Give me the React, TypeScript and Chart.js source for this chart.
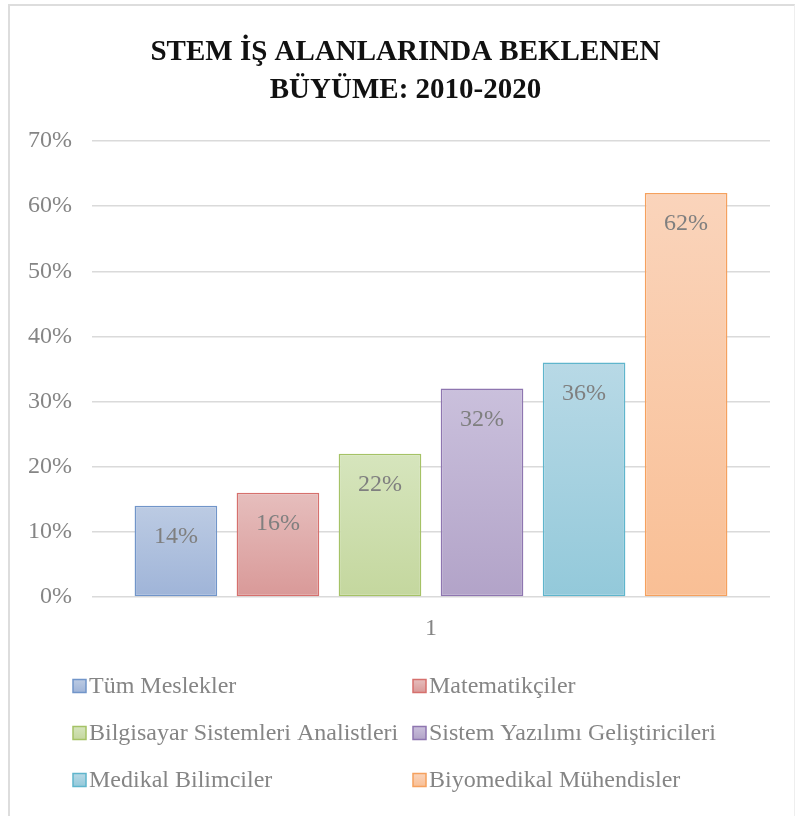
import React, { useEffect, useRef } from "react";
import { Chart, registerables } from "chart.js";

Chart.register(...registerables);

const titleLines = ["STEM İŞ ALANLARINDA BEKLENEN", "BÜYÜME: 2010-2020"];
const categories = ["1"];
const seriesNames = [
  "Tüm Meslekler",
  "Matematikçiler",
  "Bilgisayar Sistemleri Analistleri",
  "Sistem Yazılımı Geliştiricileri",
  "Medikal Bilimciler",
  "Biyomedikal Mühendisler",
];
const seriesValues = [14, 16, 22, 32, 36, 62];
const yMin = 0;
const yMax = 70;
const yStep = 10;

const topColors = ["#bccbe3", "#e6bebd", "#d6e5bd", "#cac0dc", "#b8d9e6", "#fad4bb"];
const bottomColors = ["#9fb4d8", "#d99998", "#c4d79e", "#b2a3c8", "#93c9da", "#f9bf95"];
const borderColors = ["#7195c9", "#d6706d", "#a5c266", "#8e76b0", "#5fb5cc", "#f5a15e"];

const FONT = "'Liberation Serif', 'Times New Roman', serif";
const TEXT_GREY = "#858585";

const titlePlugin = {
  id: "customTitle",
  afterDraw(chart: any) {
    const ctx = chart.ctx;
    ctx.save();
    ctx.font = `bold 29px ${FONT}`;
    ctx.fillStyle = "#111111";
    ctx.textAlign = "center";
    ctx.textBaseline = "middle";
    const cx = chart.width / 2 + 3.5;
    titleLines.forEach((line, i) => {
      ctx.fillText(line, cx, 47 + i * 37.7);
    });
    ctx.restore();
  },
};

const barLabelPlugin = {
  id: "barLabels",
  afterDatasetsDraw(chart: any) {
    const ctx = chart.ctx;
    ctx.save();
    ctx.font = `24px ${FONT}`;
    ctx.fillStyle = "#7f7f7f";
    ctx.textAlign = "center";
    ctx.textBaseline = "middle";
    chart.data.datasets.forEach((ds: any, i: number) => {
      const meta = chart.getDatasetMeta(i);
      meta.data.forEach((el: any, j: number) => {
        ctx.fillText(`${ds.data[j]}%`, el.x, el.y + 31);
      });
    });
    ctx.restore();
  },
};

const gridLegendPlugin = {
  id: "gridLegend",
  afterDraw(chart: any) {
    const ctx = chart.ctx;
    const colX = [63, 403];
    const rowY0 = 680;
    const rowGap = 47;
    const box = 13;
    ctx.save();
    ctx.font = `24px ${FONT}`;
    ctx.textBaseline = "middle";
    ctx.textAlign = "left";
    chart.data.datasets.forEach((ds: any, i: number) => {
      const col = i % 2;
      const row = Math.floor(i / 2);
      const x = colX[col];
      const y = rowY0 + row * rowGap;
      const g = ctx.createLinearGradient(0, y - box / 2, 0, y + box / 2);
      g.addColorStop(0, topColors[i]);
      g.addColorStop(1, bottomColors[i]);
      ctx.fillStyle = g;
      ctx.fillRect(x, y - box / 2, box, box);
      ctx.strokeStyle = borderColors[i];
      ctx.lineWidth = 1.5;
      ctx.strokeRect(x, y - box / 2, box, box);
      ctx.fillStyle = TEXT_GREY;
      ctx.fillText(ds.label, x + box + 3, y + 1);
    });
    ctx.restore();
  },
};

export default function App() {
  const ref = useRef<HTMLCanvasElement | null>(null);

  useEffect(() => {
    if (!ref.current) return;
    const datasets = seriesNames.map((name, i) => ({
      label: name,
      data: [seriesValues[i]],
      backgroundColor: (c: any) => {
        const chart = c.chart;
        if (!chart.chartArea || c.raw === undefined) return bottomColors[i];
        const ys = chart.scales.y;
        const top = ys.getPixelForValue(c.raw);
        const bot = ys.getPixelForValue(0);
        if (!isFinite(top) || !isFinite(bot) || top === bot) return bottomColors[i];
        const g = chart.ctx.createLinearGradient(0, top, 0, bot);
        g.addColorStop(0, topColors[i]);
        g.addColorStop(1, bottomColors[i]);
        return g;
      },
      borderColor: borderColors[i],
      borderWidth: 1.5,
      borderSkipped: false,
      categoryPercentage: 0.903,
      barPercentage: 0.81,
    }));

    const chart = new Chart(ref.current, {
      type: "bar",
      data: { labels: categories, datasets },
      plugins: [titlePlugin, barLabelPlugin, gridLegendPlugin],
      options: {
        animation: false,
        responsive: false,
        maintainAspectRatio: false,
        layout: { padding: { left: 0, right: 24, top: 135, bottom: 159 } },
        plugins: {
          legend: { display: false },
          tooltip: { enabled: false },
          title: { display: false },
        },
        scales: {
          x: {
            grid: { display: false, drawTicks: false },
            border: { display: false },
            ticks: { color: TEXT_GREY, font: { family: FONT, size: 24 }, padding: 17 },
            afterFit: (s: any) => {
              s.height = 60;
            },
          },
          y: {
            min: yMin,
            max: yMax,
            grid: { color: "#dadada", lineWidth: 1.5, drawTicks: false },
            border: { display: false },
            ticks: {
              stepSize: yStep,
              color: TEXT_GREY,
              font: { family: FONT, size: 24 },
              padding: 20,
              callback: (v: any) => `${v}%`,
            },
            afterFit: (s: any) => {
              s.width = 82;
            },
          },
        },
      },
    } as any);
    return () => chart.destroy();
  }, []);

  return (
    <div
      style={{
        position: "fixed",
        left: 8,
        top: 4,
        width: 784,
        height: 830,
        borderTop: "2px solid #dddddd",
        borderLeft: "2px solid #dddddd",
        borderRight: "1px solid #eeeeee",
        background: "#ffffff",
      }}
    >
      <canvas ref={ref} width={784} height={810} style={{ display: "block", width: 784, height: 810 }} />
    </div>
  );
}
